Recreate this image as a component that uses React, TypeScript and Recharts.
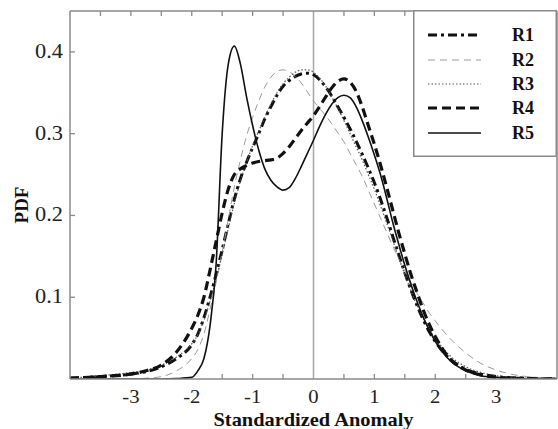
import React from 'react';
import { LineChart, Line, XAxis, YAxis, ReferenceLine, Label } from 'recharts';

const xs = [-4, -3.5, -3, -2.75, -2.5, -2.25,
  -2.0, -1.9, -1.8, -1.7, -1.6, -1.5, -1.4, -1.3, -1.2, -1.1, -1.0, -0.9, -0.8, -0.7, -0.6, -0.5, -0.4, -0.3, -0.2, -0.1,
  0, 0.1, 0.2, 0.3, 0.4, 0.5, 0.6, 0.7, 0.8, 0.9, 1.0, 1.1, 1.2, 1.3, 1.4, 1.5, 1.6, 1.7, 1.8, 1.9, 2.0,
  2.25, 2.5, 2.75, 3, 3.5, 4];

const r1 = [0.001, 0.003, 0.006, 0.009, 0.015, 0.025,
  0.042, 0.055, 0.075, 0.1, 0.128, 0.158, 0.19, 0.22, 0.245, 0.265, 0.283, 0.3, 0.318, 0.333, 0.347, 0.358, 0.365, 0.37, 0.373, 0.374,
  0.372, 0.366, 0.357, 0.346, 0.333, 0.32, 0.306, 0.291, 0.275, 0.258, 0.24, 0.22, 0.198, 0.175, 0.152, 0.13, 0.109, 0.09, 0.073, 0.058, 0.046,
  0.024, 0.012, 0.006, 0.003, 0.001, 0];

const r2 = [0, 0, 0, 0.001, 0.003, 0.01,
  0.025, 0.036, 0.055, 0.085, 0.118, 0.155, 0.195, 0.235, 0.268, 0.297, 0.32, 0.34, 0.357, 0.369, 0.376, 0.378, 0.376, 0.37, 0.362, 0.351,
  0.34, 0.331, 0.322, 0.312, 0.301, 0.29, 0.276, 0.262, 0.248, 0.231, 0.214, 0.197, 0.18, 0.163, 0.147, 0.132, 0.118, 0.105, 0.093, 0.081, 0.071,
  0.049, 0.032, 0.019, 0.011, 0.003, 0.001];

const r3 = [0.001, 0.004, 0.008, 0.011, 0.017, 0.027,
  0.043, 0.054, 0.072, 0.095, 0.122, 0.152, 0.184, 0.215, 0.242, 0.265, 0.285, 0.303, 0.32, 0.336, 0.35, 0.361, 0.369, 0.375, 0.378, 0.378,
  0.375, 0.368, 0.358, 0.345, 0.331, 0.316, 0.3, 0.284, 0.268, 0.25, 0.232, 0.212, 0.191, 0.17, 0.148, 0.128, 0.108, 0.09, 0.075, 0.061, 0.05,
  0.028, 0.015, 0.008, 0.004, 0.001, 0];

const r4 = [0.001, 0.003, 0.006, 0.01, 0.017, 0.033,
  0.062, 0.078, 0.1, 0.133, 0.168, 0.203, 0.232, 0.25, 0.257, 0.261, 0.264, 0.266, 0.267, 0.268, 0.27, 0.276, 0.284, 0.294, 0.304, 0.313,
  0.322, 0.333, 0.345, 0.356, 0.364, 0.367, 0.363, 0.352, 0.333, 0.31, 0.287, 0.262, 0.235, 0.207, 0.179, 0.153, 0.128, 0.106, 0.085, 0.067, 0.052,
  0.024, 0.011, 0.005, 0.002, 0.0005, 0];

const r5 = [0, 0, 0, 0, 0, 0.0005,
  0.002, 0.01, 0.025, 0.065, 0.14, 0.3, 0.385, 0.407, 0.385, 0.345, 0.31, 0.28, 0.257, 0.243, 0.235, 0.231, 0.234, 0.245, 0.26, 0.276,
  0.292, 0.309, 0.324, 0.336, 0.344, 0.347, 0.344, 0.333, 0.316, 0.296, 0.274, 0.25, 0.222, 0.192, 0.165, 0.139, 0.116, 0.095, 0.076, 0.06, 0.046,
  0.022, 0.01, 0.004, 0.002, 0, 0];

const xTicks = [-3.5, -3, -2.5, -2, -1.5, -1, -0.5, 0, 0.5, 1, 1.5, 2, 2.5, 3, 3.5];
const yTicks = [0.1, 0.2, 0.3, 0.4];
const seriesNames = ['R1', 'R2', 'R3', 'R4', 'R5'];

const data = xs.map((x, i) => ({ x, R1: r1[i], R2: r2[i], R3: r3[i], R4: r4[i], R5: r5[i] }));

const styles: Record<string, { stroke: string; width: number; dash?: string }> = {
  R1: { stroke: '#111', width: 3, dash: '9 4 3 4' },
  R2: { stroke: '#9a9a9a', width: 1, dash: '7 5' },
  R3: { stroke: '#555', width: 1.2, dash: '1.5 2' },
  R4: { stroke: '#111', width: 3.2, dash: '9 5' },
  R5: { stroke: '#111', width: 1.6 },
};

const AXIS = '#8a8a8a';
const FONT = "'Liberation Serif', 'Times New Roman', Times, serif";
const txt = (size: number, bold = false): React.CSSProperties => ({
  fontFamily: FONT,
  fontSize: size,
  fontWeight: bold ? 'bold' : 'normal',
});

const BottomTick = (props: any) => {
  const { x, y, payload } = props;
  const v = payload.value;
  const isInt = Math.abs(v - Math.round(v)) < 1e-6;
  const showMark = v >= -1.5 && v <= 2.5 && v !== 0;
  return (
    <g>
      {showMark && <line x1={x} y1={y} x2={x} y2={y - 5} stroke={AXIS} strokeWidth={1.3} />}
      {isInt && (
        <text x={0} y={0} transform={`translate(${x},${y + 24}) scale(1.15,1)`} textAnchor="middle"
          style={txt(18)} fill="#222">
          {v}
        </text>
      )}
    </g>
  );
};

const TopTick = (props: any) => {
  const { x, y, payload } = props;
  if (payload.value === 0) return <g />;
  return <line x1={x} y1={y} x2={x} y2={y + 5} stroke={AXIS} strokeWidth={1.3} />;
};

const LeftTick = (props: any) => {
  const { x, y, payload } = props;
  return (
    <g>
      <line x1={x} y1={y} x2={x + 5} y2={y} stroke={AXIS} strokeWidth={1.3} />
      <text x={0} y={0} transform={`translate(${x - 7},${y + 6}) scale(1.12,1)`} textAnchor="end"
        style={txt(20)} fill="#222">
        {payload.value}
      </text>
    </g>
  );
};

const RightTick = (props: any) => {
  const { x, y } = props;
  return <line x1={x} y1={y} x2={x - 5} y2={y} stroke={AXIS} strokeWidth={1.3} />;
};

const XLabel = (props: any) => {
  const vb = props.viewBox || {};
  const cx = vb.x + vb.width / 2;
  return (
    <text x={cx} y={426} textAnchor="middle" style={txt(19, true)} fill="#111"
      textLength={200} lengthAdjust="spacingAndGlyphs">
      Standardized Anomaly
    </text>
  );
};

const YLabel = () => (
  <text x={0} y={0} transform="translate(28,205) rotate(-90)" textAnchor="middle" style={txt(19, true)} fill="#111">
    PDF
  </text>
);

const LegendBox = () => {
  const rows = [35, 60, 84, 108, 133];
  return (
    <svg width={144} height={147} style={{ position: 'absolute', left: 413, top: 10 }}>
      <rect x={0.75} y={0.75} width={142.5} height={145.5} fill="#fff" stroke={AXIS} strokeWidth={1.5} />
      {seriesNames.map((n, i) => {
        const s = styles[n];
        const yy = rows[i] - 10;
        return (
          <g key={n}>
            <line x1={15} x2={68} y1={yy} y2={yy} stroke={s.stroke} strokeWidth={s.width}
              strokeDasharray={s.dash} />
            <text x={99} y={yy + 6} style={txt(18, true)} fill="#111">{n}</text>
          </g>
        );
      })}
    </svg>
  );
};

export default function App() {
  return (
    <div style={{ position: 'absolute', left: 0, top: 0, width: 558, height: 429, background: '#fff' }}>
      <LineChart width={558} height={429} data={data} margin={{ top: 0, right: 0, bottom: 0, left: 0 }}>
        <XAxis dataKey="x" type="number" domain={[-4, 4]} ticks={xTicks} interval={0} height={50}
          stroke={AXIS} strokeWidth={1.5} tickLine={false} tickSize={0} tickMargin={0} tick={<BottomTick />}
          allowDataOverflow>
          <Label content={<XLabel />} />
        </XAxis>
        <XAxis xAxisId="top" orientation="top" dataKey="x" type="number" domain={[-4, 4]} ticks={xTicks}
          interval={0} height={11} stroke={AXIS} strokeWidth={1.5} tickLine={false} tickSize={0} tickMargin={0}
          tick={<TopTick />} />
        <YAxis type="number" domain={[0, 0.45]} ticks={yTicks} interval={0} width={70} stroke={AXIS}
          strokeWidth={1.5} tickLine={false} tickSize={0} tickMargin={0} tick={<LeftTick />} allowDataOverflow>
          <Label content={<YLabel />} />
        </YAxis>
        <YAxis yAxisId="right" orientation="right" type="number" domain={[0, 0.45]} ticks={yTicks} interval={0}
          width={1} stroke={AXIS} strokeWidth={1.5} tickLine={false} tickSize={0} tickMargin={0}
          tick={<RightTick />} />
        <ReferenceLine x={0} stroke="#a8a8a8" strokeWidth={1.5} />
        {seriesNames.map((n) => {
          const s = styles[n];
          return (
            <Line key={n} dataKey={n} type="monotone" stroke={s.stroke} strokeWidth={s.width}
              strokeDasharray={s.dash} dot={false} activeDot={false} isAnimationActive={false} />
          );
        })}
      </LineChart>
      <LegendBox />
    </div>
  );
}
